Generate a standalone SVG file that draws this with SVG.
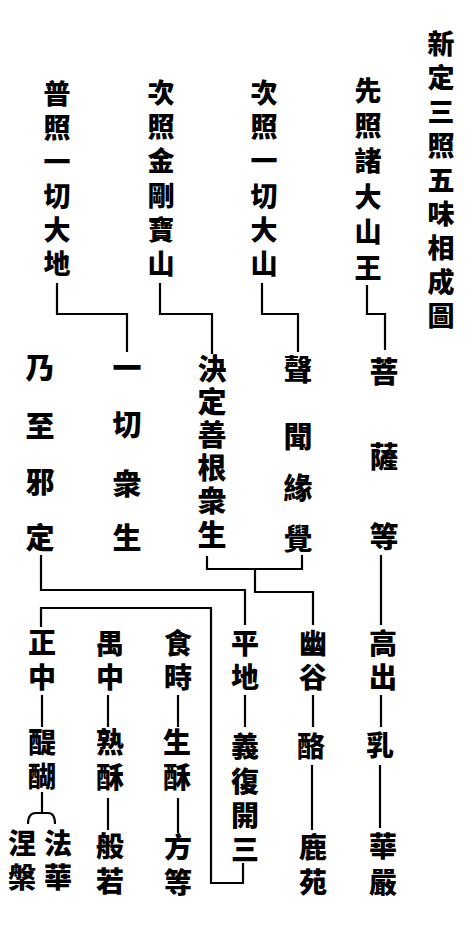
<svg xmlns="http://www.w3.org/2000/svg" width="474" height="927" viewBox="0 0 474 927">
<style>
text{font-family:"Noto Sans CJK TC","Noto Sans CJK SC",sans-serif;font-weight:900;fill:#000;writing-mode:vertical-rl;text-orientation:upright}
.t,.a{font-size:27px}
.m{font-size:29px}
.b{font-size:28px}
.c path{fill:none;stroke:#000;stroke-width:2.2}
</style>
<rect width="474" height="927" fill="#fff"/>
<g id="title"><text class="t"><tspan x="441" y="30.5">新</tspan><tspan x="441" y="64.5">定</tspan><tspan x="441" y="98.5">三</tspan><tspan x="441" y="132.5">照</tspan><tspan x="441" y="166.5">五</tspan><tspan x="441" y="200.5">味</tspan><tspan x="441" y="234.5">相</tspan><tspan x="441" y="268.5">成</tspan><tspan x="441" y="302.5">圖</tspan></text></g>
<g id="top1"><text class="a"><tspan x="368" y="77.5">先</tspan><tspan x="368" y="112.5">照</tspan><tspan x="368" y="147.5">諸</tspan><tspan x="368" y="183.5">大</tspan><tspan x="368" y="218.5">山</tspan><tspan x="368" y="254.5">王</tspan></text></g>
<g id="top2"><text class="a"><tspan x="264" y="79.5">次</tspan><tspan x="264" y="113.5">照</tspan><tspan x="264" y="147.5">一</tspan><tspan x="264" y="182.5">切</tspan><tspan x="264" y="216.5">大</tspan><tspan x="264" y="250.5">山</tspan></text></g>
<g id="top3"><text class="a"><tspan x="161" y="79.5">次</tspan><tspan x="161" y="113.5">照</tspan><tspan x="161" y="147.5">金</tspan><tspan x="161" y="182.5">剛</tspan><tspan x="161" y="216.5">寶</tspan><tspan x="161" y="250.5">山</tspan></text></g>
<g id="top4"><text class="a"><tspan x="57" y="80.5">普</tspan><tspan x="57" y="114.5">照</tspan><tspan x="57" y="148.5">一</tspan><tspan x="57" y="182.5">切</tspan><tspan x="57" y="216.5">大</tspan><tspan x="57" y="250.5">地</tspan></text></g>
<g id="mid1"><text class="m"><tspan x="384" y="357.5">菩</tspan><tspan x="384" y="442.5">薩</tspan><tspan x="384" y="522.5">等</tspan></text></g>
<g id="mid2"><text class="m"><tspan x="298" y="355.5">聲</tspan><tspan x="298" y="422.5">聞</tspan><tspan x="298" y="473.5">緣</tspan><tspan x="298" y="524.5">覺</tspan></text></g>
<g id="mid3"><text class="m"><tspan x="212" y="354.5">決</tspan><tspan x="212" y="387.5">定</tspan><tspan x="212" y="420.5">善</tspan><tspan x="212" y="453.5">根</tspan><tspan x="212" y="486.5">衆</tspan><tspan x="212" y="520.5">生</tspan></text></g>
<g id="mid4"><text class="m"><tspan x="127" y="353.5">一</tspan><tspan x="127" y="410.5">切</tspan><tspan x="127" y="469.5">衆</tspan><tspan x="127" y="523.5">生</tspan></text></g>
<g id="mid5"><text class="m"><tspan x="40" y="353.5">乃</tspan><tspan x="40" y="411.5">至</tspan><tspan x="40" y="467.5">邪</tspan><tspan x="40" y="523.5">定</tspan></text></g>
<g id="gaochu"><text class="b"><tspan x="383" y="629">高</tspan><tspan x="383" y="663">出</tspan></text></g>
<g id="ru"><text class="b"><tspan x="380" y="731">乳</tspan></text></g>
<g id="huayan"><text class="b"><tspan x="383" y="832">華</tspan><tspan x="383" y="868">嚴</tspan></text></g>
<g id="yougu"><text class="b"><tspan x="313" y="629">幽</tspan><tspan x="313" y="663">谷</tspan></text></g>
<g id="lao"><text class="b"><tspan x="311" y="732">酪</tspan></text></g>
<g id="luyuan"><text class="b"><tspan x="313" y="833">鹿</tspan><tspan x="313" y="868">苑</tspan></text></g>
<g id="pingdi"><text class="b"><tspan x="245" y="629">平</tspan><tspan x="245" y="663">地</tspan></text></g>
<g id="yifukaisan"><text class="b"><tspan x="245" y="732">義</tspan><tspan x="245" y="767">復</tspan><tspan x="245" y="801">開</tspan><tspan x="245" y="835">三</tspan></text></g>
<g id="shishi"><text class="b"><tspan x="178" y="629">食</tspan><tspan x="178" y="663">時</tspan></text></g>
<g id="shengsu"><text class="b"><tspan x="177" y="728">生</tspan><tspan x="177" y="763">酥</tspan></text></g>
<g id="fangdeng"><text class="b"><tspan x="178" y="833">方</tspan><tspan x="178" y="868">等</tspan></text></g>
<g id="yuzhong"><text class="b"><tspan x="110" y="629">禺</tspan><tspan x="110" y="663">中</tspan></text></g>
<g id="shusu"><text class="b"><tspan x="110" y="728">熟</tspan><tspan x="110" y="763">酥</tspan></text></g>
<g id="bore"><text class="b"><tspan x="110" y="832">般</tspan><tspan x="110" y="867">若</tspan></text></g>
<g id="zhengzhong"><text class="b"><tspan x="42" y="628">正</tspan><tspan x="42" y="663">中</tspan></text></g>
<g id="tihu"><text class="b"><tspan x="42" y="728">醍</tspan><tspan x="42" y="762">醐</tspan></text></g>
<g id="niepan"><text class="b"><tspan x="22" y="829">涅</tspan><tspan x="22" y="863">槃</tspan></text></g>
<g id="fahua"><text class="b"><tspan x="58" y="829">法</tspan><tspan x="58" y="863">華</tspan></text></g>
<g id="connectors" class="c">
<path d="M57 283V314H127V352"/>
<path d="M160 283V314H212V354"/>
<path d="M262 283V314H298V352"/>
<path d="M367 285V314H385V350"/>
<path d="M41 555V590H245V625"/>
<path d="M207 556V569H302V555"/>
<path d="M255 569V592H313V625"/>
<path d="M381 555V625"/>
<path d="M41 627V608H211V883H243V863"/>
<path d="M42 695V727"/>
<path d="M108 695V727"/>
<path d="M178 695V727"/>
<path d="M245 695V727"/>
<path d="M313 695V727"/>
<path d="M381 695V727"/>
<path d="M108 798V830"/>
<path d="M178 798V833"/>
<path d="M312 765V830"/>
<path d="M380 765V828"/>
<path d="M42 792V812"/>
<path d="M28 824Q28 813 36 813H48Q55 813 55 824"/>
</g>
</svg>
